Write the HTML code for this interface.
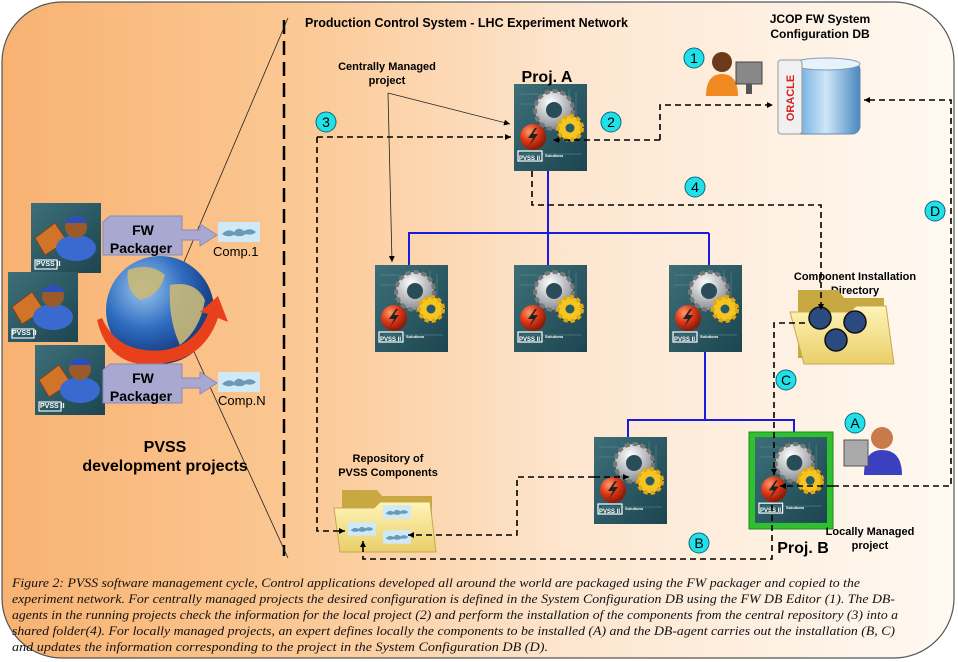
<!DOCTYPE html>
<html><head><meta charset="utf-8"><style>
html,body{margin:0;padding:0;background:#fff;}
svg{display:block;}
text{font-family:"Liberation Sans",Arial,sans-serif;}
.cap text{font-family:"Liberation Serif",serif !important;font-style:italic;}
</style></head><body>
<svg width="958" height="662" viewBox="0 0 958 662" xmlns="http://www.w3.org/2000/svg">
<defs>
<linearGradient id="bg" x1="0" y1="0" x2="1" y2="0">
<stop offset="0" stop-color="#f8b272"/>
<stop offset="0.3" stop-color="#fbc792"/>
<stop offset="0.6" stop-color="#fde6d0"/>
<stop offset="1" stop-color="#fff9f2"/>
</linearGradient>
<linearGradient id="ib" x1="0" y1="0" x2="1" y2="1">
<stop offset="0" stop-color="#3d6f78"/><stop offset="1" stop-color="#1c4550"/>
</linearGradient>
<radialGradient id="red" cx="0.35" cy="0.3" r="0.7">
<stop offset="0" stop-color="#ff9a6a"/><stop offset="0.5" stop-color="#e03a18"/><stop offset="1" stop-color="#8a1a08"/>
</radialGradient>
<radialGradient id="gray" cx="0.4" cy="0.3" r="0.7">
<stop offset="0" stop-color="#ffffff"/><stop offset="1" stop-color="#8a8f95"/>
</radialGradient>
<radialGradient id="glob" cx="0.35" cy="0.3" r="0.75">
<stop offset="0" stop-color="#9cc8f0"/><stop offset="0.5" stop-color="#2f6cc0"/><stop offset="1" stop-color="#0c2a6a"/>
</radialGradient>
<linearGradient id="fold" x1="0" y1="0" x2="0" y2="1">
<stop offset="0" stop-color="#fff4b8"/><stop offset="1" stop-color="#e9cf6a"/>
</linearGradient>
<linearGradient id="ora" x1="0" y1="0" x2="1" y2="0">
<stop offset="0" stop-color="#5aa0d8"/><stop offset="0.5" stop-color="#cfe6f8"/><stop offset="1" stop-color="#4a88c0"/>
</linearGradient>
<marker id="ah" markerWidth="8" markerHeight="8" refX="6" refY="3" orient="auto" markerUnits="userSpaceOnUse"><path d="M0,0 L6,3 L0,6 z" fill="#000"/></marker>
<symbol id="icon" viewBox="0 0 73 87">
<rect x="0" y="0" width="73" height="87" fill="url(#ib)"/>
<path d="M5 10 h20 M5 20 h14 M55 5 v40 M62 8 v35 M8 70 h60" stroke="#5a8a92" stroke-width="1" opacity="0.6"/>
<circle cx="40" cy="26" r="19" fill="url(#gray)" stroke="#777" stroke-width="4" stroke-dasharray="5 3"/>
<circle cx="40" cy="26" r="8" fill="#2a4c58"/>
<circle cx="56" cy="44" r="12" fill="#f5c520" stroke="#e5a810" stroke-width="4" stroke-dasharray="4 3"/>
<circle cx="56" cy="44" r="4.5" fill="#2a5b66"/>
<circle cx="19" cy="53" r="13" fill="url(#red)"/>
<path d="M21 44 L14 54 L19 54 L15 62 L24 50 L19 50 L23 44z" fill="#222"/>
<rect x="4" y="67" width="24" height="10" fill="none" stroke="#fff" stroke-width="1.2"/>
</symbol>
<symbol id="dev" viewBox="0 0 70 70">
<rect x="0" y="0" width="70" height="70" fill="url(#ib)"/>
<path d="M4 35 L24 20 L36 38 L14 52z" fill="#d0742a" stroke="#8a4010" stroke-width="1"/>
<ellipse cx="45" cy="45" rx="20" ry="13" fill="#3a6ad0"/>
<circle cx="45" cy="24" r="11" fill="#9a5a2a"/>
<path d="M33 20 Q45 6 57 20 z" fill="#2a50c0"/>
<rect x="4" y="57" width="22" height="9" fill="none" stroke="#fff" stroke-width="1.1"/>
</symbol>
<symbol id="puz" viewBox="0 0 42 20">
<rect x="0" y="0" width="42" height="20" fill="#cfeaf6"/>
<path d="M4 12 Q10 6 16 10 Q20 4 26 9 Q32 5 38 10 Q34 14 28 12 Q22 16 16 13 Q10 16 4 12z" fill="#6a9ab8"/>
</symbol>
</defs>

<rect x="2" y="2" width="952" height="656" rx="60" ry="60" fill="url(#bg)" stroke="#555" stroke-width="1.2"/>

<line x1="284" y1="20" x2="284" y2="556" stroke="#000" stroke-width="2.5" stroke-dasharray="14 7"/>
<line x1="288" y1="18" x2="172" y2="290" stroke="#222" stroke-width="0.8"/>
<line x1="175" y1="310" x2="288" y2="558" stroke="#222" stroke-width="0.8"/>

<text x="305" y="27" font-size="12.5" font-weight="bold">Production Control System - LHC Experiment Network</text>

<use href="#dev" x="31" y="203" width="70" height="70"/>
<use href="#dev" x="8" y="272" width="70" height="70"/>
<use href="#dev" x="35" y="345" width="70" height="70"/>
<text x="36" y="266" font-size="7" font-weight="bold" fill="#fff">PVSS II</text>
<text x="12" y="335" font-size="7" font-weight="bold" fill="#fff">PVSS II</text>
<text x="40" y="408" font-size="7" font-weight="bold" fill="#fff">PVSS II</text>

<circle cx="160" cy="310" r="54" fill="url(#glob)"/>
<path d="M128 270 Q150 262 165 275 Q160 295 140 300 Q125 290 128 270z M170 285 Q195 280 205 300 Q200 330 180 345 Q168 320 170 285z" fill="#c8b878" opacity="0.9"/>
<path d="M97 320 Q110 375 170 362 Q205 355 218 318 L228 322 L218 296 L200 312 L208 314 Q195 345 165 350 Q118 355 102 318z" fill="#e8401a"/>

<g>
<path d="M103 222 L110 216 L182 216 L182 230 L200 230 L200 224 L217 235 L200 246 L200 240 L182 240 L182 255 L103 255z" fill="#a8a8d0" stroke="#8a8ab8"/>
<text x="143" y="235" font-size="14" font-weight="bold" text-anchor="middle">FW</text>
<text x="141" y="253" font-size="14" font-weight="bold" text-anchor="middle">Packager</text>
</g>
<g transform="translate(0,148)">
<path d="M103 222 L110 216 L182 216 L182 230 L200 230 L200 224 L217 235 L200 246 L200 240 L182 240 L182 255 L103 255z" fill="#a8a8d0" stroke="#8a8ab8"/>
<text x="143" y="235" font-size="14" font-weight="bold" text-anchor="middle">FW</text>
<text x="141" y="253" font-size="14" font-weight="bold" text-anchor="middle">Packager</text>
</g>
<use href="#puz" x="218" y="222" width="42" height="20"/>
<use href="#puz" x="218" y="372" width="42" height="20"/>
<text x="213" y="256" font-size="13">Comp.1</text>
<text x="218" y="405" font-size="13">Comp.N</text>
<text x="165" y="452" font-size="16" font-weight="bold" text-anchor="middle">PVSS</text>
<text x="165" y="471" font-size="16" font-weight="bold" text-anchor="middle">development projects</text>

<g stroke="#1a1ae0" stroke-width="2" fill="none">
<path d="M548 171 V265"/>
<path d="M409 265 V233 H709 M709 233 V265"/>
<path d="M705 352 V420 M628 438 V420 H794 V432"/>
</g>

<use href="#icon" x="514" y="84" width="73" height="87"/>
<use href="#icon" x="375" y="265" width="73" height="87"/>
<use href="#icon" x="514" y="265" width="73" height="87"/>
<use href="#icon" x="669" y="265" width="73" height="87"/>
<use href="#icon" x="594" y="437" width="73" height="87"/>
<rect x="749" y="432" width="84" height="97" fill="#2ec02e" stroke="#1a8a1a"/>
<use href="#icon" x="755" y="437" width="72" height="86"/>
<g font-size="6" font-weight="bold" fill="#fff">
<text x="519" y="160">PVSS II</text><text x="545" y="157" font-size="4">Solutions</text>
<text x="380" y="341">PVSS II</text><text x="406" y="338" font-size="4">Solutions</text>
<text x="519" y="341">PVSS II</text><text x="545" y="338" font-size="4">Solutions</text>
<text x="674" y="341">PVSS II</text><text x="700" y="338" font-size="4">Solutions</text>
<text x="599" y="513">PVSS II</text><text x="625" y="510" font-size="4">Solutions</text>
<text x="760" y="512">PVSS II</text><text x="786" y="509" font-size="4">Solutions</text>
</g>

<text x="547" y="82" font-size="16" font-weight="bold" text-anchor="middle">Proj. A</text>
<text x="803" y="553" font-size="16" font-weight="bold" text-anchor="middle">Proj. B</text>
<text x="387" y="70" font-size="11" font-weight="bold" text-anchor="middle">Centrally Managed</text>
<text x="387" y="84" font-size="11" font-weight="bold" text-anchor="middle">project</text>
<text x="870" y="535" font-size="11" font-weight="bold" text-anchor="middle">Locally Managed</text>
<text x="870" y="549" font-size="11" font-weight="bold" text-anchor="middle">project</text>
<text x="820" y="23" font-size="12" font-weight="bold" text-anchor="middle">JCOP FW System</text>
<text x="820" y="38" font-size="12" font-weight="bold" text-anchor="middle">Configuration DB</text>
<text x="855" y="280" font-size="11" font-weight="bold" text-anchor="middle">Component Installation</text>
<text x="855" y="294" font-size="11" font-weight="bold" text-anchor="middle">Directory</text>
<text x="388" y="462" font-size="11" font-weight="bold" text-anchor="middle">Repository of</text>
<text x="388" y="476" font-size="11" font-weight="bold" text-anchor="middle">PVSS Components</text>

<g stroke="#222" stroke-width="0.8" fill="none" marker-end="url(#ah)">
<path d="M388 93 L510 124"/>
<path d="M388 93 L392 262"/>
</g>

<rect x="792" y="62" width="68" height="72" rx="8" fill="url(#ora)" stroke="#6a8aa8"/>
<ellipse cx="826" cy="64" rx="34" ry="6" fill="#e8f2fa" stroke="#7a9ab8"/>
<rect x="778" y="60" width="24" height="74" rx="3" fill="#f0f0f0" stroke="#999"/>
<text x="794" y="98" font-size="11" font-weight="bold" fill="#d82020" transform="rotate(-90 794 98)" text-anchor="middle">ORACLE</text>

<circle cx="722" cy="62" r="10" fill="#6a3a1a"/>
<path d="M706 96 Q706 74 722 74 Q738 74 738 96z" fill="#f08a20"/>
<rect x="736" y="62" width="26" height="22" fill="#888" stroke="#444"/>
<rect x="746" y="84" width="6" height="10" fill="#555"/>
<circle cx="882" cy="438" r="11" fill="#c87a4a"/>
<path d="M864 475 Q864 450 882 450 Q902 450 902 475z" fill="#3a40c0"/>
<rect x="844" y="440" width="24" height="26" fill="#aaa" stroke="#555"/>

<path d="M798 290 h40 l6 8 h40 v60 h-86z" fill="#c8a840"/>
<path d="M790 312 h60 l6 -6 h30 l8 58 h-90z" fill="url(#fold)" stroke="#c8a850"/>
<g fill="#2a4a80" stroke="#111" stroke-width="1.5">
<circle cx="820" cy="318" r="11"/><circle cx="855" cy="322" r="11"/><circle cx="836" cy="340" r="11"/>
</g>
<path d="M342 490 h35 l5 6 h50 v56 h-90z" fill="#c8a840"/>
<path d="M334 508 h40 l6 -6 h50 l6 50 h-96z" fill="url(#fold)" stroke="#c8a850"/>
<use href="#puz" x="348" y="522" width="28" height="14"/>
<use href="#puz" x="383" y="505" width="28" height="14"/>
<use href="#puz" x="383" y="530" width="28" height="14"/>

<g stroke="#000" stroke-width="1.6" fill="none" stroke-dasharray="6 4">
<path d="M660 140 H553" marker-end="url(#ah)"/>
<path d="M660 140 V105 H773" marker-end="url(#ah)"/>
<path d="M317 137 H511" marker-end="url(#ah)"/>
<path d="M317 137 V531 H345" marker-end="url(#ah)"/>
<path d="M532 171 V205 H821 V310" marker-end="url(#ah)"/>
<path d="M833 486 H951 V100 H864" marker-end="url(#ah)"/>
<path d="M833 486 H780" marker-end="url(#ah)"/>
<path d="M805 323 H774 V475" marker-end="url(#ah)"/>
<path d="M594 477 H517 V535 H408" marker-end="url(#ah)"/>
<path d="M594 477 H629" marker-end="url(#ah)"/>
<path d="M772 505 V559 H363 V541" marker-end="url(#ah)"/>
</g>

<g font-size="14" text-anchor="middle">
<g fill="#22e0e8" stroke="#0a6a80" stroke-width="1">
<circle cx="694" cy="58" r="10"/><circle cx="611" cy="122" r="10"/><circle cx="326" cy="122" r="10"/>
<circle cx="695" cy="187" r="10"/><circle cx="935" cy="211" r="10"/><circle cx="786" cy="380" r="10"/>
<circle cx="855" cy="423" r="10"/><circle cx="699" cy="543" r="10"/>
</g>
<text x="694" y="63">1</text><text x="611" y="127">2</text><text x="326" y="127">3</text>
<text x="695" y="192">4</text><text x="935" y="216">D</text><text x="786" y="385">C</text>
<text x="855" y="428">A</text><text x="699" y="548">B</text>
</g>

<g class="cap" font-size="12.5" fill="#111">
<text x="12" y="587" textLength="848" lengthAdjust="spacingAndGlyphs" style="font-family:'Liberation Serif',serif;font-style:italic">Figure 2: PVSS software management cycle, Control applications developed all around the world are packaged using the FW packager and copied to the</text>
<text x="12" y="603" textLength="883" lengthAdjust="spacingAndGlyphs" style="font-family:'Liberation Serif',serif;font-style:italic">experiment network. For centrally managed projects the desired configuration is defined in the System Configuration DB using the FW DB Editor (1). The DB-</text>
<text x="12" y="619" textLength="886" lengthAdjust="spacingAndGlyphs" style="font-family:'Liberation Serif',serif;font-style:italic">agents in the running projects check the information for the local project (2) and perform the installation of the components from the central repository (3) into a</text>
<text x="12" y="635" textLength="883" lengthAdjust="spacingAndGlyphs" style="font-family:'Liberation Serif',serif;font-style:italic">shared folder(4).  For locally managed projects, an expert defines locally the components to be installed (A) and the DB-agent carries out the installation (B, C)</text>
<text x="12" y="651" textLength="536" lengthAdjust="spacingAndGlyphs" style="font-family:'Liberation Serif',serif;font-style:italic">and updates the information corresponding to the project in the System Configuration DB (D).</text>
</g>
</svg>
</body></html>
